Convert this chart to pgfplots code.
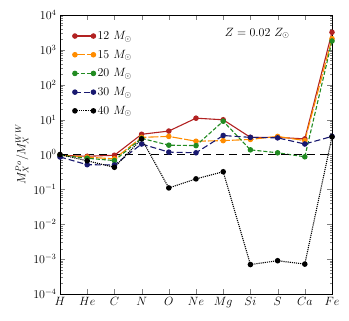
\documentclass[border=0pt]{standalone}
\usepackage{pgfplots}
\pgfplotsset{compat=1.18}
\usetikzlibrary{calc}
\definecolor{c12}{RGB}{178,34,34}
\definecolor{c15}{RGB}{255,140,0}
\definecolor{c20}{RGB}{34,139,34}
\definecolor{c30}{RGB}{25,25,112}
\begin{document}
\begin{tikzpicture}
\begin{axis}[
  width=272pt, height=279pt, scale only axis,
  ymode=log, ymin=1e-4, ymax=1e4,
  xmin=0, xmax=10,
  xtick={0,...,10},
  xticklabels={$H$,$He$,$C$,$N$,$O$,$Ne$,$Mg$,$Si$,$S$,$Ca$,$Fe$},
  ytick={1e-4,1e-3,1e-2,1e-1,1,1e1,1e2,1e3,1e4},
  tick align=inside, tick pos=both,
  major tick length=5pt, minor tick length=2.5pt,
  ticklabel style={font=\large},
  label style={font=\large},
  ylabel={$M_X^{Po}/M_X^{WW}$},
  ylabel style={yshift=-2pt},
  legend style={at={(0.035,0.957)}, anchor=north west, draw=none, fill=none,
    font=\large, row sep=5pt},
  legend cell align=left,
  legend image code/.code={\draw[#1] plot coordinates {(0cm,0cm) (0.65cm,0cm)};},
  every axis plot/.append style={line width=1.1pt, mark=*, mark size=2.2pt},
]
% 12 Msun
\addplot[c12, solid, mark options={solid}] coordinates {
  (0,0.95) (1,0.89) (2,0.95) (3,3.8) (4,4.7) (5,11) (6,9.9) (7,3.1) (8,3.1) (9,2.8) (10,3200)
};
\addlegendentry{12 $M_\odot$}
% 15 Msun
\addplot[c15, dash pattern=on 10pt off 2pt, mark options={solid}] coordinates {
  (0,0.95) (1,0.84) (2,0.75) (3,3.1) (4,3.3) (5,2.4) (6,2.5) (7,2.7) (8,3.3) (9,2.5) (10,2100)
};
\addlegendentry{15 $M_\odot$}
% 20 Msun
\addplot[c20, dash pattern=on 4pt off 2pt, mark options={solid}] coordinates {
  (0,0.95) (1,0.78) (2,0.67) (3,2.9) (4,1.85) (5,1.8) (6,9.0) (7,1.36) (8,1.12) (9,0.86) (10,1800)
};
\addlegendentry{20 $M_\odot$}
% 30 Msun
\addplot[c30, dash pattern=on 6pt off 3pt, mark options={solid}] coordinates {
  (0,0.85) (1,0.51) (2,0.5) (3,2.0) (4,1.17) (5,1.12) (6,3.5) (7,3.1) (8,3.0) (9,2.0) (10,3.3)
};
\addlegendentry{30 $M_\odot$}
% 40 Msun
\addplot[black, densely dotted, mark options={solid}] coordinates {
  (0,1.0) (1,0.66) (2,0.43) (3,2.8) (4,0.11) (5,0.2) (6,0.32) (7,7e-4) (8,9e-4) (9,7.2e-4) (10,3.2)
};
\addlegendentry{40 $M_\odot$}
% reference line
\addplot[black, line width=1.3pt, dash pattern=on 8pt off 5pt, mark=none, forget plot]
  coordinates {(0,1) (10,1)};
\node[font=\large] at (axis cs:7.25,3000) {$Z = 0.02\ Z_\odot$};
\end{axis}
\path ($(current axis.south west)+(-60pt,-26pt)$) rectangle ($(current axis.north east)+(17pt,15pt)$);
\end{tikzpicture}
\end{document}
